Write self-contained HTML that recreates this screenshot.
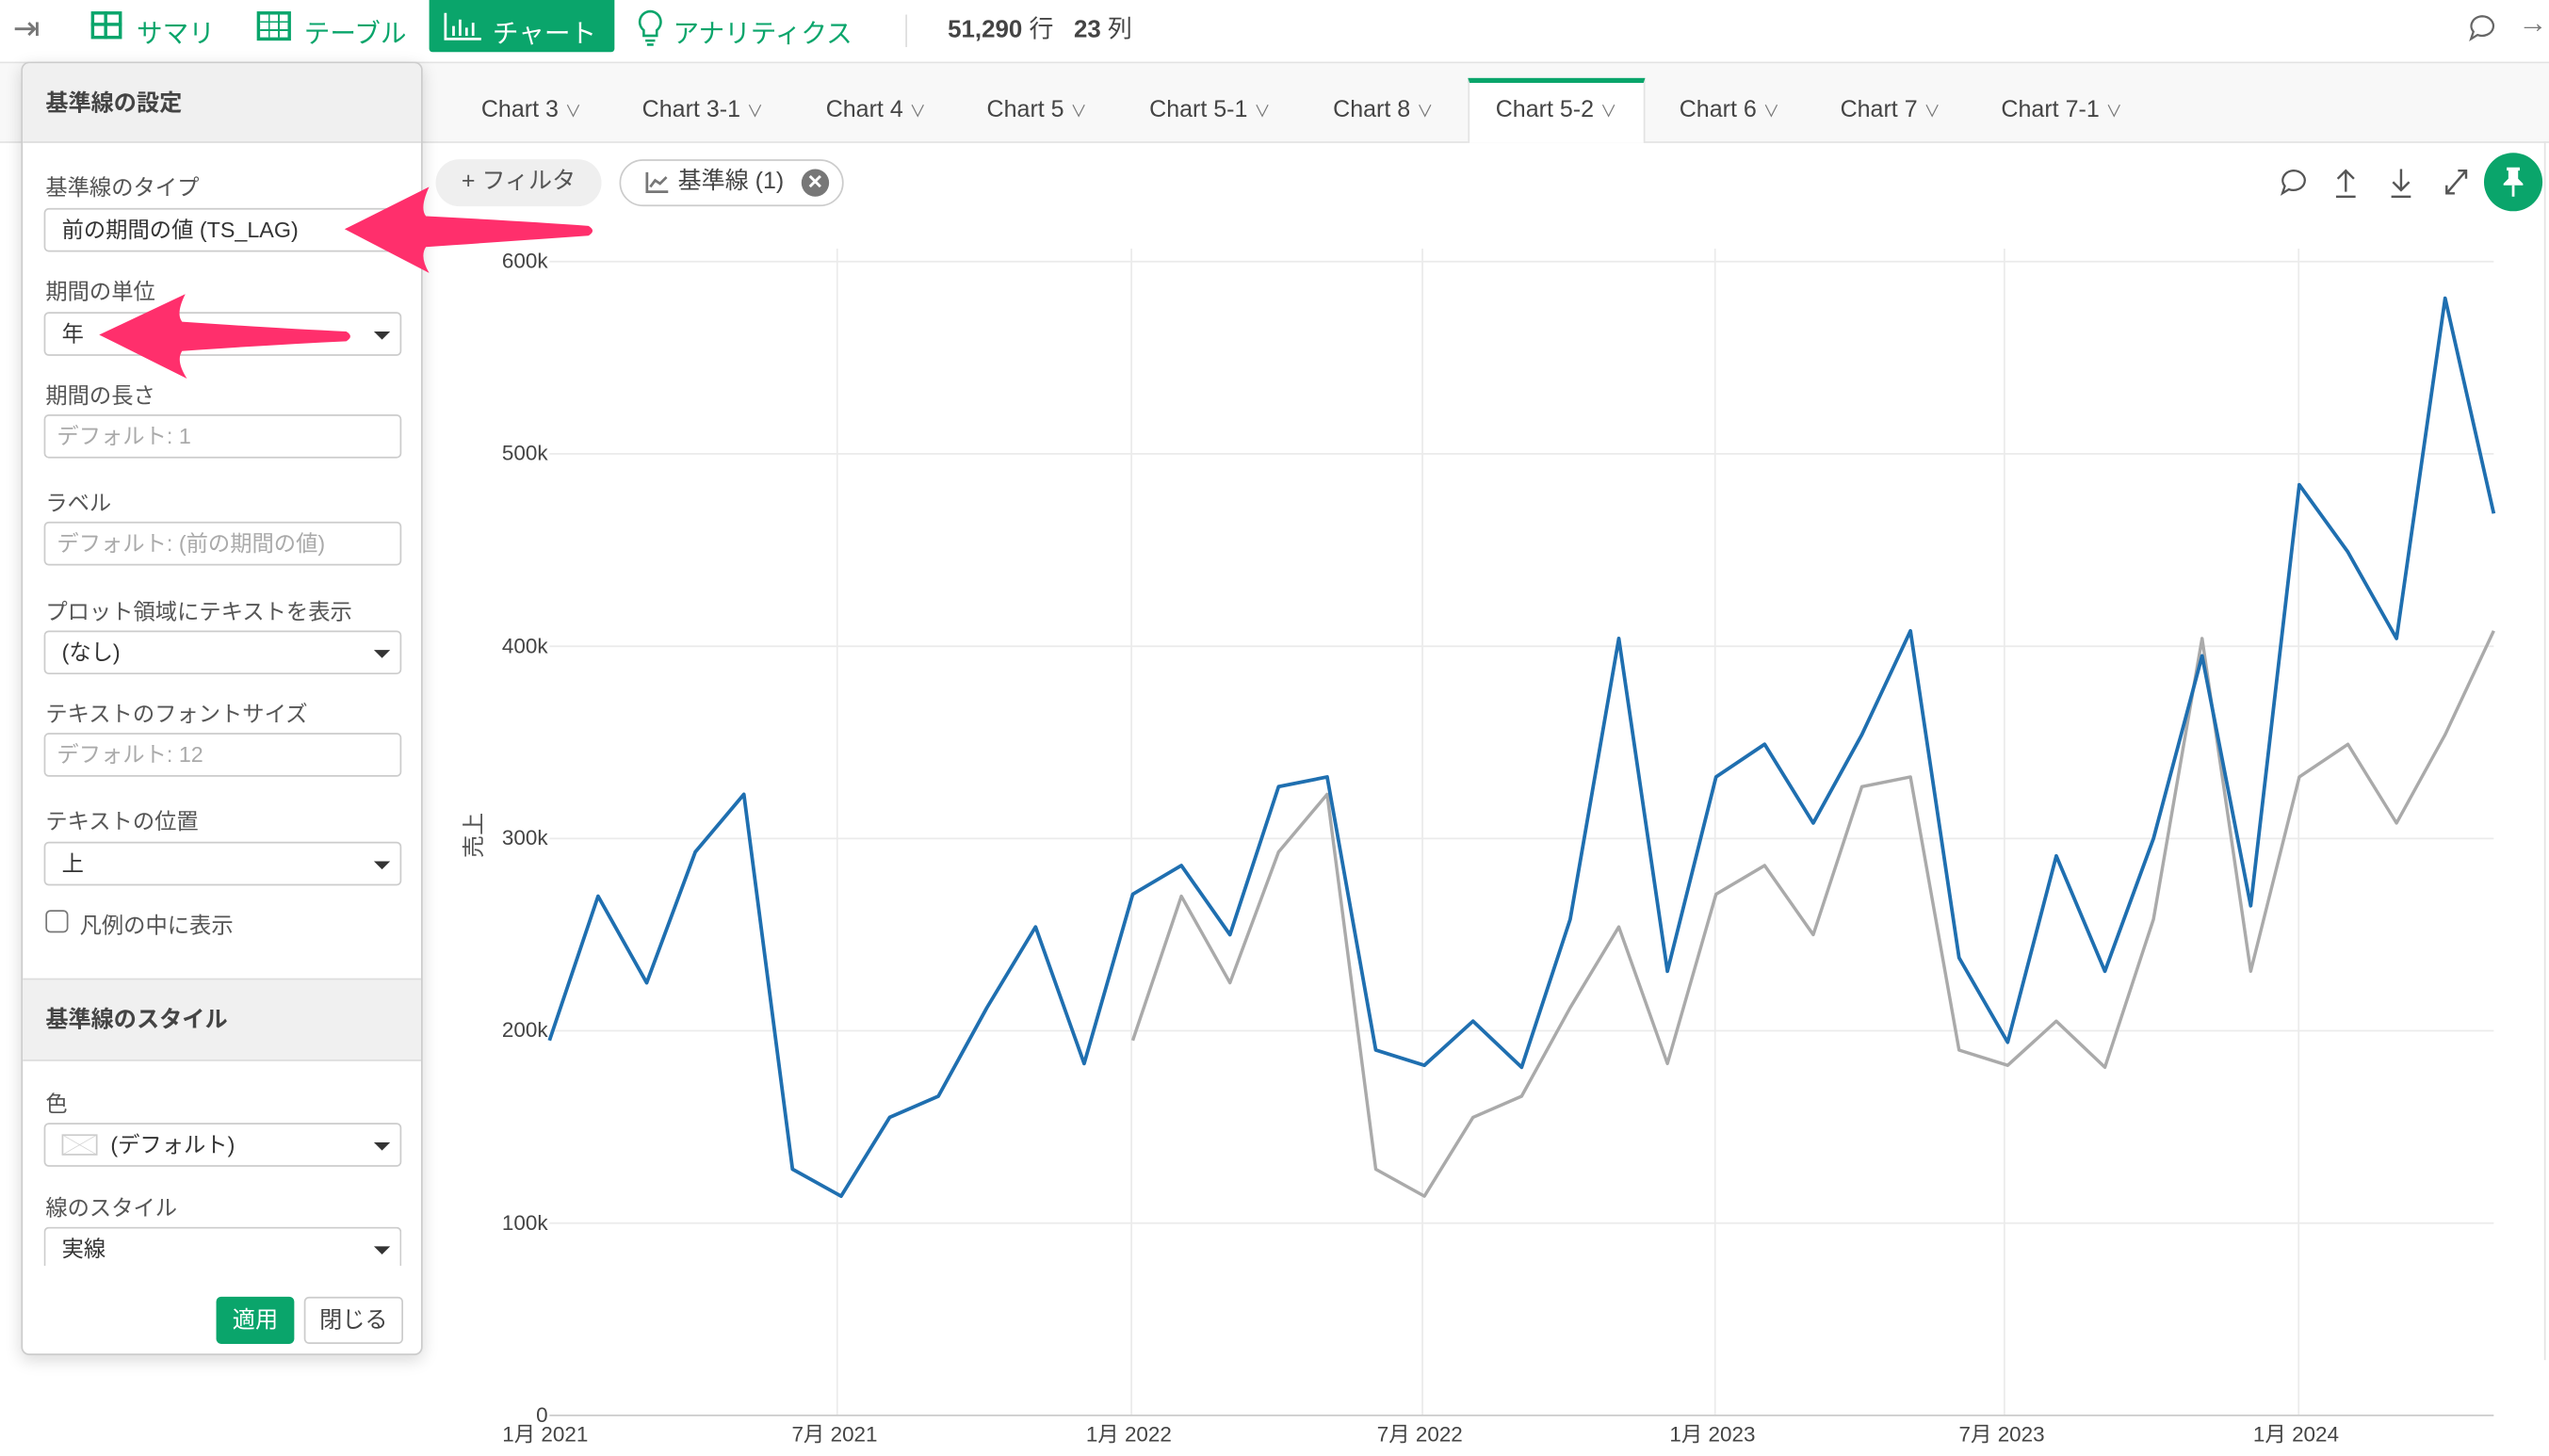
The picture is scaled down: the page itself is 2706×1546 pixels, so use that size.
<!DOCTYPE html>
<html><head><meta charset="utf-8"><style>
html,body{margin:0;padding:0;background:#fff;overflow:hidden;width:2706px;height:1546px}
#w{position:absolute;left:0;top:0;width:1568px;height:896px;transform:scale(1.72577,1.72545);transform-origin:0 0;font-family:"Liberation Sans","Noto Sans CJK JP",sans-serif;color:#333}
.a{position:absolute}
.tab{position:absolute;top:60px;font-size:14.5px;color:#444}
.tab i{font-style:normal;font-size:10px;color:#777;margin-left:4px}
.lbl{position:absolute;left:28px;font-size:13.5px;color:#555}
.inp{position:absolute;left:27px;width:220px;height:27px;border:1px solid #ccc;border-radius:3px;box-sizing:border-box;font-size:13.5px;line-height:25px;padding-left:10px;background:#fff}
.ph{color:#aaa;padding-left:7px}
.car{position:absolute;right:6px;top:11px;width:0;height:0;border-left:5px solid transparent;border-right:5px solid transparent;border-top:5px solid #333}
.yt{position:absolute;font-size:13px;color:#444;text-align:right;width:60px;left:277px}
.xt{position:absolute;top:872px;font-size:13px;color:#444}
</style></head><body><div id="w">
<!-- top bar -->
<div class="a" style="left:0;top:0;width:1568px;height:38px;border-bottom:1px solid #e3e3e3;background:#fff"></div>
<div class="a" style="left:8px;top:5px;font-size:20px;color:#777">⇥</div>
<div class="a" style="left:56px;top:7px;width:19px;height:17px;border:2px solid #0aa56b;box-sizing:border-box"></div>
<div class="a" style="left:64px;top:7px;width:2px;height:17px;background:#0aa56b"></div>
<div class="a" style="left:56px;top:14px;width:19px;height:2px;background:#0aa56b"></div>
<div class="a" style="left:84px;top:7px;font-size:16px;color:#0aa56b">サマリ</div>
<div class="a" style="left:158px;top:7px;width:21px;height:18px;border:2px solid #0aa56b;box-sizing:border-box;background:repeating-linear-gradient(90deg,transparent 0 5px,#0aa56b 5px 6px),repeating-linear-gradient(0deg,transparent 0 4px,#0aa56b 4px 5px)"></div>
<div class="a" style="left:187px;top:7px;font-size:16px;color:#0aa56b">テーブル</div>
<div class="a" style="left:264px;top:0;width:114px;height:32px;background:#0aa56b;border-radius:0 0 2px 2px"></div>
<svg class="a" style="left:273px;top:7px" width="24" height="18"><path d="M1,1 V17 H23" stroke="#fff" stroke-width="1.6" fill="none"/><path d="M6,15 V9 M10,15 V5 M14,15 V10 M18,15 V7" stroke="#fff" stroke-width="1.6"/></svg>
<div class="a" style="left:303px;top:7px;font-size:16px;color:#fff">チャート</div>
<svg class="a" style="left:391px;top:5px" width="18" height="24"><path d="M9,2 a6.5,6.5 0 0 1 4,11.6 V17 H5 V13.6 A6.5,6.5 0 0 1 9,2 Z M6,20 H12 M7,22.5 H11" stroke="#0aa56b" stroke-width="1.5" fill="none"/></svg>
<div class="a" style="left:414px;top:7px;font-size:16px;color:#0aa56b">アナリティクス</div>
<div class="a" style="left:557px;top:9px;width:1px;height:20px;background:#ddd"></div>
<div class="a" style="left:583px;top:7px;font-size:15px;color:#444"><b>51,290</b> 行 &nbsp; <b>23</b> 列</div>
<svg class="a" style="left:1517px;top:8px" width="20" height="18"><path d="M10,2 a7,6 0 1 1 -3,11.5 L3,16 L4.5,11.5 A7,6 0 0 1 10,2 Z" stroke="#666" stroke-width="1.3" fill="none"/></svg>
<div class="a" style="left:1549px;top:4px;font-size:18px;color:#777">→</div>
<!-- tabs -->
<div class="a" style="left:0;top:39px;width:1568px;height:48px;background:#f8f8f8;border-bottom:1px solid #e3e3e3"></div>
<div class="a" style="left:903px;top:48px;width:109px;height:40px;background:#fff;border:1px solid #e3e3e3;border-bottom:none;border-top:3px solid #0aa56b;box-sizing:border-box"></div>
<div class="tab" style="left:296px">Chart 3<i>∨</i></div>
<div class="tab" style="left:395px">Chart 3-1<i>∨</i></div>
<div class="tab" style="left:508px">Chart 4<i>∨</i></div>
<div class="tab" style="left:607px">Chart 5<i>∨</i></div>
<div class="tab" style="left:707px">Chart 5-1<i>∨</i></div>
<div class="tab" style="left:820px">Chart 8<i>∨</i></div>
<div class="tab" style="left:920px">Chart 5-2<i>∨</i></div>
<div class="tab" style="left:1033px">Chart 6<i>∨</i></div>
<div class="tab" style="left:1132px">Chart 7<i>∨</i></div>
<div class="tab" style="left:1231px">Chart 7-1<i>∨</i></div>
<div class="a" style="left:1565px;top:87px;width:1px;height:750px;background:#e3e3e3"></div>
<!-- filter pills -->
<div class="a" style="left:268px;top:98px;width:102px;height:29px;background:#efefef;border-radius:15px;font-size:14.5px;line-height:29px;color:#555;text-align:center">+ フィルタ</div>
<div class="a" style="left:381px;top:98px;width:138px;height:29px;border:1px solid #ccc;border-radius:15px;box-sizing:border-box;font-size:14.5px;line-height:27px;color:#444;padding-left:35px">基準線 (1)</div>
<svg class="a" style="left:397px;top:105px" width="15" height="14"><path d="M1,1 V13 H14 M3,10 L6,6 L9,8 L13,4" stroke="#777" stroke-width="1.6" fill="none"/></svg>
<div class="a" style="left:493px;top:104px;width:17px;height:17px;border-radius:50%;background:#777;color:#fff;font-size:12px;line-height:17px;text-align:center;font-weight:bold">✕</div>
<!-- right icons -->
<svg class="a" style="left:1401px;top:103px" width="20" height="18"><path d="M10,2 a7,6 0 1 1 -3,11.5 L3,16 L4.5,11.5 A7,6 0 0 1 10,2 Z" stroke="#555" stroke-width="1.3" fill="none"/></svg>
<svg class="a" style="left:1435px;top:102px" width="16" height="20"><path d="M8,16 V3 M3,8 L8,3 L13,8 M2,19 H14" stroke="#555" stroke-width="1.4" fill="none"/></svg>
<svg class="a" style="left:1469px;top:102px" width="16" height="20"><path d="M8,2 V15 M3,10 L8,15 L13,10 M2,19 H14" stroke="#555" stroke-width="1.4" fill="none"/></svg>
<svg class="a" style="left:1503px;top:103px" width="16" height="18"><path d="M2,16 L14,2 M9,2 H14 V7 M2,11 V16 H7" stroke="#555" stroke-width="1.4" fill="none"/></svg>
<div class="a" style="left:1528px;top:94px;width:36px;height:36px;border-radius:50%;background:#0aa56b"></div>
<svg class="a" style="left:1538px;top:102px" width="16" height="20"><path d="M4,1 H12 V3 H11 V8 L14,11 V12 H2 V11 L5,8 V3 H4 Z" fill="#fff"/><path d="M8,12 V19" stroke="#fff" stroke-width="1.6"/></svg>
<!-- chart -->
<svg class="a" style="left:0;top:0" width="1568" height="896">
<g stroke="#ebebeb" stroke-width="1">
<line x1="338" y1="161" x2="1534" y2="161"/><line x1="338" y1="279.3" x2="1534" y2="279.3"/><line x1="338" y1="397.7" x2="1534" y2="397.7"/><line x1="338" y1="516" x2="1534" y2="516"/><line x1="338" y1="634.3" x2="1534" y2="634.3"/><line x1="338" y1="752.7" x2="1534" y2="752.7"/>
<line x1="515" y1="153" x2="515" y2="871"/><line x1="696" y1="153" x2="696" y2="871"/><line x1="875" y1="153" x2="875" y2="871"/><line x1="1055" y1="153" x2="1055" y2="871"/><line x1="1233" y1="153" x2="1233" y2="871"/><line x1="1414" y1="153" x2="1414" y2="871"/>
</g>
<line x1="338" y1="871" x2="1534" y2="871" stroke="#ccc"/>
<polyline fill="none" stroke="#aaaaaa" stroke-width="2" stroke-linejoin="round" points="696.8,640.3 726.7,551.5 756.6,604.8 786.5,524.3 816.4,488.8 846.3,719.5 876.2,736.1 906.1,687.6 936,674.6 965.9,620.1 995.8,570.4 1025.7,654.5 1055.6,550.3 1085.5,532.6 1115.4,575.2 1145.3,484.1 1175.2,478.1 1205.1,646.2 1235,655.6 1264.9,628.4 1294.8,656.8 1324.7,565.7 1354.6,392.9 1384.5,597.7 1414.4,478.1 1444.3,458 1474.2,506.5 1504.1,452.1 1534,388.2"/>
<polyline fill="none" stroke="#1f6fb0" stroke-width="2.2" stroke-linejoin="round" points="338,640.3 367.9,551.5 397.8,604.8 427.7,524.3 457.6,488.8 487.5,719.5 517.4,736.1 547.3,687.6 577.2,674.6 607.1,620.1 637,570.4 666.9,654.5 696.8,550.3 726.7,532.6 756.6,575.2 786.5,484.1 816.4,478.1 846.3,646.2 876.2,655.6 906.1,628.4 936,656.8 965.9,565.7 995.8,392.9 1025.7,597.7 1055.6,478.1 1085.5,458 1115.4,506.5 1145.3,452.1 1175.2,388.2 1205.1,589.4 1235,641.4 1264.9,526.7 1294.8,597.7 1324.7,516 1354.6,403.6 1384.5,557.4 1414.4,298.3 1444.3,339.7 1474.2,392.9 1504.1,183.5 1534,316"/>
<text x="296" y="514" font-size="14" fill="#555" transform="rotate(-90 296 514)" text-anchor="middle" font-family="Liberation Sans,Noto Sans CJK JP,sans-serif">売上</text>
</svg>
<div class="yt" style="top:153px">600k</div>
<div class="yt" style="top:271px">500k</div>
<div class="yt" style="top:390px">400k</div>
<div class="yt" style="top:508px">300k</div>
<div class="yt" style="top:626px">200k</div>
<div class="yt" style="top:745px">100k</div>
<div class="yt" style="top:863px">0</div>
<div class="xt" style="left:309px">1月 2021</div>
<div class="xt" style="left:487px">7月 2021</div>
<div class="xt" style="left:668px">1月 2022</div>
<div class="xt" style="left:847px">7月 2022</div>
<div class="xt" style="left:1027px">1月 2023</div>
<div class="xt" style="left:1205px">7月 2023</div>
<div class="xt" style="left:1386px">1月 2024</div>
<!-- left panel -->
<div class="a" style="left:13px;top:38px;width:247px;height:796px;background:#fff;border:1px solid #ccc;border-radius:5px;box-shadow:0 3px 10px rgba(0,0,0,0.15);box-sizing:border-box;overflow:hidden">
<div class="a" style="left:0;top:0;width:247px;height:48px;background:#f0f0f0;border-bottom:1px solid #ddd"></div>
<div class="a" style="left:0;top:563px;width:247px;height:49px;background:#f0f0f0;border-top:1px solid #ddd;border-bottom:1px solid #ddd"></div>
</div>
<div class="a" style="left:28px;top:53px;font-size:14px;font-weight:bold;color:#444">基準線の設定</div>
<div class="lbl" style="top:104px">基準線のタイプ</div>
<div class="inp" style="top:128px;color:#333">前の期間の値 (TS_LAG)</div>
<div class="lbl" style="top:168px">期間の単位</div>
<div class="inp" style="top:192px">年<div class="car"></div></div>
<div class="lbl" style="top:232px">期間の長さ</div>
<div class="inp ph" style="top:255px">デフォルト: 1</div>
<div class="lbl" style="top:298px">ラベル</div>
<div class="inp ph" style="top:321px">デフォルト: (前の期間の値)</div>
<div class="lbl" style="top:365px">プロット領域にテキストを表示</div>
<div class="inp" style="top:388px">(なし)<div class="car"></div></div>
<div class="lbl" style="top:428px">テキストのフォントサイズ</div>
<div class="inp ph" style="top:451px">デフォルト: 12</div>
<div class="lbl" style="top:494px">テキストの位置</div>
<div class="inp" style="top:518px">上<div class="car"></div></div>
<div class="a" style="left:28px;top:560px;width:14px;height:14px;border:1px solid #777;border-radius:3px;box-sizing:border-box"></div>
<div class="lbl" style="left:49px;top:558px">凡例の中に表示</div>
<div class="a" style="left:28px;top:617px;font-size:14px;font-weight:bold;color:#444">基準線のスタイル</div>
<div class="lbl" style="top:668px">色</div>
<div class="inp" style="top:691px;padding-left:40px">(デフォルト)<div class="car"></div>
<div class="a" style="left:10px;top:6px;width:22px;height:13px;border:1px solid #ccc;box-sizing:border-box;background:linear-gradient(30deg,transparent 48%,#ccc 50%,transparent 52%),linear-gradient(-30deg,transparent 48%,#ccc 50%,transparent 52%)"></div></div>
<div class="lbl" style="top:732px">線のスタイル</div>
<div class="inp" style="top:755px;height:24px;border-bottom:none;border-radius:3px 3px 0 0">実線<div class="car"></div></div>
<div class="a" style="left:133px;top:798px;width:48px;height:29px;background:#0aa56b;border-radius:3px;color:#fff;font-size:14px;line-height:29px;text-align:center">適用</div>
<div class="a" style="left:187px;top:798px;width:61px;height:29px;border:1px solid #ccc;border-radius:3px;box-sizing:border-box;color:#444;font-size:14px;line-height:27px;text-align:center">閉じる</div>
<!-- arrows -->
<svg class="a" style="left:0;top:0" width="1568" height="896">
<path fill="#ff2f6c" d="M212,141 L264,115 Q258,128 262,133 Q320,136 362,139 Q367,142 362,145 Q320,148 262,152 Q258,158 264,168 Z"/>
<path fill="#ff2f6c" d="M61,206 L114,181 Q108,193 112,198 Q170,202 213,204 Q218,207 213,210 Q170,212 112,216 Q108,222 115,233 Z"/>
</svg>
</div></body></html>
